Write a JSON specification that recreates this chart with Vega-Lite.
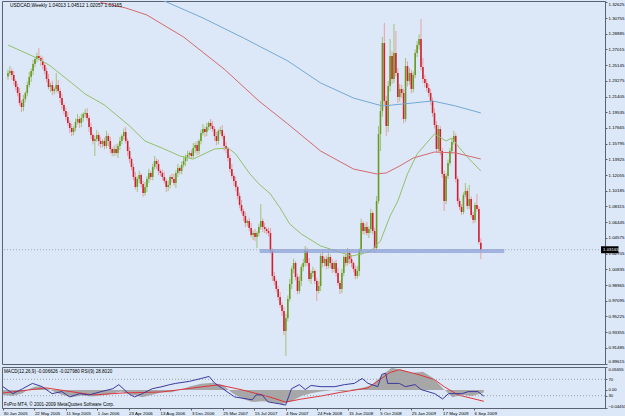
{
"$schema": "https://vega.github.io/schema/vega-lite/v6.json",
"background": "#dce8f8",
"padding": {"left": 0, "top": 0, "right": 0, "bottom": 3},
"spacing": 1,
"config": {
  "view": {"stroke": "#5a6272", "strokeWidth": 1},
  "axis": {"labelFont": "Liberation Sans", "labelFontSize": 4.4, "labelColor": "#000000", "tickColor": "#5a6272", "domainColor": "#5a6272", "grid": false},
  "text": {"font": "Liberation Sans"}
},
"datasets": {
"candles": [
{"d":"2005-01-30","o":1.2380,"h":1.2461,"l":1.2340,"c":1.2421},
{"d":"2005-02-06","o":1.2421,"h":1.2505,"l":1.2391,"c":1.2445},
{"d":"2005-02-13","o":1.2445,"h":1.2475,"l":1.2337,"c":1.2397},
{"d":"2005-02-20","o":1.2397,"h":1.2447,"l":1.2276,"c":1.2326},
{"d":"2005-02-27","o":1.2326,"h":1.2346,"l":1.2214,"c":1.2254},
{"d":"2005-03-06","o":1.2254,"h":1.2294,"l":1.2143,"c":1.2183},
{"d":"2005-03-13","o":1.2183,"h":1.2243,"l":1.2034,"c":1.2064},
{"d":"2005-03-20","o":1.2064,"h":1.2094,"l":1.1956,"c":1.2016},
{"d":"2005-03-27","o":1.2016,"h":1.2161,"l":1.1966,"c":1.2111},
{"d":"2005-04-03","o":1.2111,"h":1.2203,"l":1.2071,"c":1.2183},
{"d":"2005-04-10","o":1.2183,"h":1.2318,"l":1.2143,"c":1.2278},
{"d":"2005-04-17","o":1.2278,"h":1.2433,"l":1.2248,"c":1.2373},
{"d":"2005-04-24","o":1.2373,"h":1.2475,"l":1.2313,"c":1.2445},
{"d":"2005-05-01","o":1.2445,"h":1.2578,"l":1.2395,"c":1.2528},
{"d":"2005-05-08","o":1.2528,"h":1.2608,"l":1.2488,"c":1.2588},
{"d":"2005-05-15","o":1.2588,"h":1.2663,"l":1.2548,"c":1.2623},
{"d":"2005-05-22","o":1.2623,"h":1.2718,"l":1.2569,"c":1.2599},
{"d":"2005-05-29","o":1.2599,"h":1.2629,"l":1.2504,"c":1.2564},
{"d":"2005-06-05","o":1.2564,"h":1.2614,"l":1.2466,"c":1.2516},
{"d":"2005-06-12","o":1.2516,"h":1.2536,"l":1.2405,"c":1.2445},
{"d":"2005-06-19","o":1.2445,"h":1.2485,"l":1.2309,"c":1.2349},
{"d":"2005-06-26","o":1.2349,"h":1.2409,"l":1.2224,"c":1.2254},
{"d":"2005-07-03","o":1.2254,"h":1.2308,"l":1.2194,"c":1.2278},
{"d":"2005-07-10","o":1.2278,"h":1.2328,"l":1.2157,"c":1.2207},
{"d":"2005-07-17","o":1.2207,"h":1.2250,"l":1.2167,"c":1.2230},
{"d":"2005-07-24","o":1.2230,"h":1.2421,"l":1.2190,"c":1.2278},
{"d":"2005-07-31","o":1.2278,"h":1.2338,"l":1.2177,"c":1.2207},
{"d":"2005-08-07","o":1.2207,"h":1.2237,"l":1.2063,"c":1.2123},
{"d":"2005-08-14","o":1.2123,"h":1.2173,"l":1.1990,"c":1.2040},
{"d":"2005-08-21","o":1.2040,"h":1.2060,"l":1.1929,"c":1.1969},
{"d":"2005-08-28","o":1.1969,"h":1.2009,"l":1.1857,"c":1.1897},
{"d":"2005-09-04","o":1.1897,"h":1.1957,"l":1.1796,"c":1.1826},
{"d":"2005-09-11","o":1.1826,"h":1.1856,"l":1.1706,"c":1.1766},
{"d":"2005-09-18","o":1.1766,"h":1.1816,"l":1.1669,"c":1.1719},
{"d":"2005-09-25","o":1.1719,"h":1.1786,"l":1.1679,"c":1.1766},
{"d":"2005-10-02","o":1.1766,"h":1.1878,"l":1.1726,"c":1.1838},
{"d":"2005-10-09","o":1.1838,"h":1.1933,"l":1.1808,"c":1.1873},
{"d":"2005-10-16","o":1.1873,"h":1.1903,"l":1.1766,"c":1.1826},
{"d":"2005-10-23","o":1.1826,"h":1.1935,"l":1.1776,"c":1.1885},
{"d":"2005-10-30","o":1.1885,"h":1.1953,"l":1.1845,"c":1.1933},
{"d":"2005-11-06","o":1.1933,"h":1.1992,"l":1.1893,"c":1.1945},
{"d":"2005-11-13","o":1.1945,"h":1.2005,"l":1.1855,"c":1.1885},
{"d":"2005-11-20","o":1.1885,"h":1.1915,"l":1.1718,"c":1.1778},
{"d":"2005-11-27","o":1.1778,"h":1.1828,"l":1.1633,"c":1.1683},
{"d":"2005-12-04","o":1.1683,"h":1.1703,"l":1.1571,"c":1.1611},
{"d":"2005-12-11","o":1.1611,"h":1.1675,"l":1.1433,"c":1.1635},
{"d":"2005-12-18","o":1.1635,"h":1.1743,"l":1.1605,"c":1.1683},
{"d":"2005-12-25","o":1.1683,"h":1.1713,"l":1.1551,"c":1.1611},
{"d":"2006-01-01","o":1.1611,"h":1.1661,"l":1.1526,"c":1.1576},
{"d":"2006-01-08","o":1.1576,"h":1.1631,"l":1.1536,"c":1.1611},
{"d":"2006-01-15","o":1.1611,"h":1.1651,"l":1.1512,"c":1.1552},
{"d":"2006-01-22","o":1.1552,"h":1.1731,"l":1.1522,"c":1.1671},
{"d":"2006-01-29","o":1.1671,"h":1.1701,"l":1.1551,"c":1.1611},
{"d":"2006-02-05","o":1.1611,"h":1.1661,"l":1.1466,"c":1.1516},
{"d":"2006-02-12","o":1.1516,"h":1.1536,"l":1.1429,"c":1.1469},
{"d":"2006-02-19","o":1.1469,"h":1.1556,"l":1.1429,"c":1.1516},
{"d":"2006-02-26","o":1.1516,"h":1.1576,"l":1.1439,"c":1.1469},
{"d":"2006-03-05","o":1.1469,"h":1.1582,"l":1.1409,"c":1.1552},
{"d":"2006-03-12","o":1.1552,"h":1.1661,"l":1.1502,"c":1.1611},
{"d":"2006-03-19","o":1.1611,"h":1.1691,"l":1.1571,"c":1.1671},
{"d":"2006-03-26","o":1.1671,"h":1.1759,"l":1.1631,"c":1.1719},
{"d":"2006-04-02","o":1.1719,"h":1.1779,"l":1.1581,"c":1.1611},
{"d":"2006-04-09","o":1.1611,"h":1.1641,"l":1.1432,"c":1.1492},
{"d":"2006-04-16","o":1.1492,"h":1.1542,"l":1.1347,"c":1.1397},
{"d":"2006-04-23","o":1.1397,"h":1.1417,"l":1.1262,"c":1.1302},
{"d":"2006-04-30","o":1.1302,"h":1.1342,"l":1.1143,"c":1.1183},
{"d":"2006-05-07","o":1.1183,"h":1.1243,"l":1.1034,"c":1.1064},
{"d":"2006-05-14","o":1.1064,"h":1.1189,"l":1.1004,"c":1.1159},
{"d":"2006-05-21","o":1.1159,"h":1.1257,"l":1.1109,"c":1.1207},
{"d":"2006-05-28","o":1.1207,"h":1.1227,"l":1.1059,"c":1.1099},
{"d":"2006-06-04","o":1.1099,"h":1.1139,"l":1.0945,"c":1.0992},
{"d":"2006-06-11","o":1.0992,"h":1.1124,"l":1.0962,"c":1.1064},
{"d":"2006-06-18","o":1.1064,"h":1.1189,"l":1.1004,"c":1.1159},
{"d":"2006-06-25","o":1.1159,"h":1.1281,"l":1.1109,"c":1.1231},
{"d":"2006-07-02","o":1.1231,"h":1.1251,"l":1.1143,"c":1.1183},
{"d":"2006-07-09","o":1.1183,"h":1.1342,"l":1.1143,"c":1.1302},
{"d":"2006-07-16","o":1.1302,"h":1.1433,"l":1.1272,"c":1.1373},
{"d":"2006-07-23","o":1.1373,"h":1.1403,"l":1.1278,"c":1.1338},
{"d":"2006-07-30","o":1.1338,"h":1.1388,"l":1.1204,"c":1.1254},
{"d":"2006-08-06","o":1.1254,"h":1.1274,"l":1.1191,"c":1.1231},
{"d":"2006-08-13","o":1.1231,"h":1.1271,"l":1.1143,"c":1.1183},
{"d":"2006-08-20","o":1.1183,"h":1.1243,"l":1.1105,"c":1.1135},
{"d":"2006-08-27","o":1.1135,"h":1.1165,"l":1.1004,"c":1.1064},
{"d":"2006-09-03","o":1.1064,"h":1.1138,"l":1.1014,"c":1.1088},
{"d":"2006-09-10","o":1.1088,"h":1.1203,"l":1.1048,"c":1.1183},
{"d":"2006-09-17","o":1.1183,"h":1.1223,"l":1.1119,"c":1.1159},
{"d":"2006-09-24","o":1.1159,"h":1.1219,"l":1.1081,"c":1.1111},
{"d":"2006-10-01","o":1.1111,"h":1.1261,"l":1.1051,"c":1.1231},
{"d":"2006-10-08","o":1.1231,"h":1.1340,"l":1.1181,"c":1.1290},
{"d":"2006-10-15","o":1.1290,"h":1.1310,"l":1.1214,"c":1.1254},
{"d":"2006-10-22","o":1.1254,"h":1.1366,"l":1.1214,"c":1.1326},
{"d":"2006-10-29","o":1.1326,"h":1.1433,"l":1.1296,"c":1.1373},
{"d":"2006-11-05","o":1.1373,"h":1.1451,"l":1.1313,"c":1.1421},
{"d":"2006-11-12","o":1.1421,"h":1.1495,"l":1.1371,"c":1.1445},
{"d":"2006-11-19","o":1.1445,"h":1.1489,"l":1.1405,"c":1.1469},
{"d":"2006-11-26","o":1.1469,"h":1.1509,"l":1.1393,"c":1.1433},
{"d":"2006-12-03","o":1.1433,"h":1.1588,"l":1.1403,"c":1.1528},
{"d":"2006-12-10","o":1.1528,"h":1.1594,"l":1.1468,"c":1.1564},
{"d":"2006-12-17","o":1.1564,"h":1.1614,"l":1.1442,"c":1.1492},
{"d":"2006-12-24","o":1.1492,"h":1.1631,"l":1.1452,"c":1.1611},
{"d":"2006-12-31","o":1.1611,"h":1.1747,"l":1.1571,"c":1.1707},
{"d":"2007-01-07","o":1.1707,"h":1.1814,"l":1.1677,"c":1.1754},
{"d":"2007-01-14","o":1.1754,"h":1.1784,"l":1.1659,"c":1.1719},
{"d":"2007-01-21","o":1.1719,"h":1.1828,"l":1.1669,"c":1.1778},
{"d":"2007-01-28","o":1.1778,"h":1.1846,"l":1.1738,"c":1.1826},
{"d":"2007-02-04","o":1.1826,"h":1.1873,"l":1.1750,"c":1.1790},
{"d":"2007-02-11","o":1.1790,"h":1.1850,"l":1.1724,"c":1.1754},
{"d":"2007-02-18","o":1.1754,"h":1.1784,"l":1.1611,"c":1.1671},
{"d":"2007-02-25","o":1.1671,"h":1.1721,"l":1.1561,"c":1.1611},
{"d":"2007-03-04","o":1.1611,"h":1.1751,"l":1.1571,"c":1.1731},
{"d":"2007-03-11","o":1.1731,"h":1.1782,"l":1.1691,"c":1.1742},
{"d":"2007-03-18","o":1.1742,"h":1.1802,"l":1.1641,"c":1.1671},
{"d":"2007-03-25","o":1.1671,"h":1.1701,"l":1.1492,"c":1.1552},
{"d":"2007-04-01","o":1.1552,"h":1.1602,"l":1.1466,"c":1.1516},
{"d":"2007-04-08","o":1.1516,"h":1.1536,"l":1.1369,"c":1.1409},
{"d":"2007-04-15","o":1.1409,"h":1.1449,"l":1.1238,"c":1.1278},
{"d":"2007-04-22","o":1.1278,"h":1.1338,"l":1.1165,"c":1.1195},
{"d":"2007-04-29","o":1.1195,"h":1.1225,"l":1.1075,"c":1.1135},
{"d":"2007-05-06","o":1.1135,"h":1.1185,"l":1.1014,"c":1.1064},
{"d":"2007-05-13","o":1.1064,"h":1.1084,"l":1.0917,"c":1.0957},
{"d":"2007-05-20","o":1.0957,"h":1.0997,"l":1.0810,"c":1.0850},
{"d":"2007-05-27","o":1.0850,"h":1.0910,"l":1.0748,"c":1.0778},
{"d":"2007-06-03","o":1.0778,"h":1.0808,"l":1.0659,"c":1.0719},
{"d":"2007-06-10","o":1.0719,"h":1.0769,"l":1.0585,"c":1.0635},
{"d":"2007-06-17","o":1.0635,"h":1.0679,"l":1.0595,"c":1.0659},
{"d":"2007-06-24","o":1.0659,"h":1.0699,"l":1.0536,"c":1.0576},
{"d":"2007-07-01","o":1.0576,"h":1.0636,"l":1.0462,"c":1.0492},
{"d":"2007-07-08","o":1.0492,"h":1.0546,"l":1.0432,"c":1.0516},
{"d":"2007-07-15","o":1.0516,"h":1.0566,"l":1.0419,"c":1.0469},
{"d":"2007-07-22","o":1.0469,"h":1.0536,"l":1.0338,"c":1.0516},
{"d":"2007-07-29","o":1.0516,"h":1.0628,"l":1.0476,"c":1.0588},
{"d":"2007-08-05","o":1.0588,"h":1.0861,"l":1.0558,"c":1.0659},
{"d":"2007-08-12","o":1.0659,"h":1.0689,"l":1.0528,"c":1.0588},
{"d":"2007-08-19","o":1.0588,"h":1.0638,"l":1.0514,"c":1.0564},
{"d":"2007-08-26","o":1.0564,"h":1.0584,"l":1.0500,"c":1.0540},
{"d":"2007-09-02","o":1.0540,"h":1.0580,"l":1.0476,"c":1.0516},
{"d":"2007-09-09","o":1.0516,"h":1.0576,"l":1.0272,"c":1.0302},
{"d":"2007-09-16","o":1.0302,"h":1.0332,"l":0.9944,"c":1.0004},
{"d":"2007-09-23","o":1.0004,"h":1.0054,"l":0.9895,"c":0.9945},
{"d":"2007-09-30","o":0.9945,"h":0.9965,"l":0.9810,"c":0.9850},
{"d":"2007-10-07","o":0.9850,"h":0.9890,"l":0.9714,"c":0.9754},
{"d":"2007-10-14","o":0.9754,"h":0.9814,"l":0.9629,"c":0.9659},
{"d":"2007-10-21","o":0.9659,"h":0.9689,"l":0.9528,"c":0.9588},
{"d":"2007-10-28","o":0.9588,"h":0.9638,"l":0.9300,"c":0.9350},
{"d":"2007-11-04","o":0.9350,"h":0.9554,"l":0.9052,"c":0.9504},
{"d":"2007-11-11","o":0.9504,"h":0.9771,"l":0.9464,"c":0.9731},
{"d":"2007-11-18","o":0.9731,"h":0.9969,"l":0.9701,"c":0.9909},
{"d":"2007-11-25","o":0.9909,"h":1.0118,"l":0.9849,"c":1.0088},
{"d":"2007-12-02","o":1.0088,"h":1.0209,"l":1.0038,"c":1.0159},
{"d":"2007-12-09","o":1.0159,"h":1.0179,"l":0.9952,"c":0.9992},
{"d":"2007-12-16","o":0.9992,"h":1.0032,"l":0.9786,"c":0.9826},
{"d":"2007-12-23","o":0.9826,"h":1.0005,"l":0.9796,"c":0.9945},
{"d":"2007-12-30","o":0.9945,"h":1.0141,"l":0.9885,"c":1.0111},
{"d":"2008-01-06","o":1.0111,"h":1.0209,"l":1.0061,"c":1.0159},
{"d":"2008-01-13","o":1.0159,"h":1.0362,"l":1.0119,"c":1.0302},
{"d":"2008-01-20","o":1.0302,"h":1.0342,"l":1.0119,"c":1.0159},
{"d":"2008-01-27","o":1.0159,"h":1.0219,"l":0.9939,"c":0.9969},
{"d":"2008-02-03","o":0.9969,"h":1.0070,"l":0.9909,"c":1.0040},
{"d":"2008-02-10","o":1.0040,"h":1.0114,"l":0.9990,"c":1.0064},
{"d":"2008-02-17","o":1.0064,"h":1.0084,"l":0.9905,"c":0.9945},
{"d":"2008-02-24","o":0.9945,"h":0.9985,"l":0.9707,"c":0.9826},
{"d":"2008-03-02","o":0.9826,"h":0.9945,"l":0.9796,"c":0.9885},
{"d":"2008-03-09","o":0.9885,"h":1.0272,"l":0.9825,"c":1.0242},
{"d":"2008-03-16","o":1.0242,"h":1.0292,"l":1.0109,"c":1.0159},
{"d":"2008-03-23","o":1.0159,"h":1.0227,"l":1.0119,"c":1.0207},
{"d":"2008-03-30","o":1.0207,"h":1.0247,"l":1.0083,"c":1.0123},
{"d":"2008-04-06","o":1.0123,"h":1.0291,"l":1.0093,"c":1.0231},
{"d":"2008-04-13","o":1.0231,"h":1.0261,"l":1.0099,"c":1.0159},
{"d":"2008-04-20","o":1.0159,"h":1.0209,"l":1.0038,"c":1.0088},
{"d":"2008-04-27","o":1.0088,"h":1.0179,"l":1.0048,"c":1.0159},
{"d":"2008-05-04","o":1.0159,"h":1.0199,"l":1.0000,"c":1.0040},
{"d":"2008-05-11","o":1.0040,"h":1.0100,"l":0.9891,"c":0.9921},
{"d":"2008-05-18","o":0.9921,"h":0.9951,"l":0.9790,"c":0.9850},
{"d":"2008-05-25","o":0.9850,"h":1.0090,"l":0.9800,"c":1.0040},
{"d":"2008-06-01","o":1.0040,"h":1.0251,"l":1.0000,"c":1.0231},
{"d":"2008-06-08","o":1.0231,"h":1.0271,"l":1.0119,"c":1.0159},
{"d":"2008-06-15","o":1.0159,"h":1.0338,"l":1.0129,"c":1.0278},
{"d":"2008-06-22","o":1.0278,"h":1.0308,"l":1.0147,"c":1.0207},
{"d":"2008-06-29","o":1.0207,"h":1.0257,"l":1.0109,"c":1.0159},
{"d":"2008-07-06","o":1.0159,"h":1.0179,"l":1.0048,"c":1.0088},
{"d":"2008-07-13","o":1.0088,"h":1.0128,"l":0.9964,"c":1.0004},
{"d":"2008-07-20","o":1.0004,"h":1.0124,"l":0.9974,"c":1.0064},
{"d":"2008-07-27","o":1.0064,"h":1.0332,"l":1.0004,"c":1.0302},
{"d":"2008-08-03","o":1.0302,"h":1.0685,"l":1.0252,"c":1.0635},
{"d":"2008-08-10","o":1.0635,"h":1.0655,"l":1.0500,"c":1.0540},
{"d":"2008-08-17","o":1.0540,"h":1.0628,"l":1.0500,"c":1.0588},
{"d":"2008-08-24","o":1.0588,"h":1.0648,"l":1.0486,"c":1.0516},
{"d":"2008-08-31","o":1.0516,"h":1.0594,"l":1.0456,"c":1.0564},
{"d":"2008-09-07","o":1.0564,"h":1.0802,"l":1.0514,"c":1.0754},
{"d":"2008-09-14","o":1.0754,"h":1.0774,"l":1.0500,"c":1.0540},
{"d":"2008-09-21","o":1.0540,"h":1.0580,"l":1.0278,"c":1.0338},
{"d":"2008-09-28","o":1.0338,"h":1.0957,"l":1.0308,"c":1.0897},
{"d":"2008-10-05","o":1.0897,"h":1.1790,"l":1.0867,"c":1.1695},
{"d":"2008-10-12","o":1.1695,"h":1.2088,"l":1.1492,"c":1.1969},
{"d":"2008-10-19","o":1.1969,"h":1.2850,"l":1.1900,"c":1.2778},
{"d":"2008-10-26","o":1.2778,"h":1.3016,"l":1.2040,"c":1.2088},
{"d":"2008-11-02","o":1.2088,"h":1.2150,"l":1.1671,"c":1.1790},
{"d":"2008-11-09","o":1.1790,"h":1.2326,"l":1.1720,"c":1.2266},
{"d":"2008-11-16","o":1.2266,"h":1.2826,"l":1.2200,"c":1.2623},
{"d":"2008-11-23","o":1.2623,"h":1.2680,"l":1.2290,"c":1.2349},
{"d":"2008-11-30","o":1.2349,"h":1.3004,"l":1.2300,"c":1.2659},
{"d":"2008-12-07","o":1.2659,"h":1.2921,"l":1.2380,"c":1.2421},
{"d":"2008-12-14","o":1.2421,"h":1.2480,"l":1.2060,"c":1.2135},
{"d":"2008-12-21","o":1.2135,"h":1.2290,"l":1.2080,"c":1.2230},
{"d":"2008-12-28","o":1.2230,"h":1.2280,"l":1.2120,"c":1.2183},
{"d":"2009-01-04","o":1.2183,"h":1.2230,"l":1.1820,"c":1.1873},
{"d":"2009-01-11","o":1.1873,"h":1.2599,"l":1.1840,"c":1.2504},
{"d":"2009-01-18","o":1.2504,"h":1.2560,"l":1.2260,"c":1.2326},
{"d":"2009-01-25","o":1.2326,"h":1.2480,"l":1.2280,"c":1.2421},
{"d":"2009-02-01","o":1.2421,"h":1.2460,"l":1.2180,"c":1.2230},
{"d":"2009-02-08","o":1.2230,"h":1.2440,"l":1.2190,"c":1.2397},
{"d":"2009-02-15","o":1.2397,"h":1.2700,"l":1.2360,"c":1.2659},
{"d":"2009-02-22","o":1.2659,"h":1.2800,"l":1.2610,"c":1.2754},
{"d":"2009-03-01","o":1.2754,"h":1.2880,"l":1.2700,"c":1.2826},
{"d":"2009-03-08","o":1.2826,"h":1.3064,"l":1.2450,"c":1.2492},
{"d":"2009-03-15","o":1.2492,"h":1.2599,"l":1.2300,"c":1.2349},
{"d":"2009-03-22","o":1.2349,"h":1.2400,"l":1.2250,"c":1.2302},
{"d":"2009-03-29","o":1.2302,"h":1.2350,"l":1.2200,"c":1.2242},
{"d":"2009-04-05","o":1.2242,"h":1.2290,"l":1.2140,"c":1.2183},
{"d":"2009-04-12","o":1.2183,"h":1.2230,"l":1.2040,"c":1.2088},
{"d":"2009-04-19","o":1.2088,"h":1.2130,"l":1.1900,"c":1.1945},
{"d":"2009-04-26","o":1.1945,"h":1.2000,"l":1.1760,"c":1.1802},
{"d":"2009-05-03","o":1.1802,"h":1.1850,"l":1.1470,"c":1.1516},
{"d":"2009-05-10","o":1.1516,"h":1.1800,"l":1.1480,"c":1.1754},
{"d":"2009-05-17","o":1.1754,"h":1.1790,"l":1.1440,"c":1.1492},
{"d":"2009-05-24","o":1.1492,"h":1.1530,"l":1.1170,"c":1.1219},
{"d":"2009-05-31","o":1.1219,"h":1.1260,"l":1.0778,"c":1.0897},
{"d":"2009-06-07","o":1.0897,"h":1.1230,"l":1.0860,"c":1.1195},
{"d":"2009-06-14","o":1.1195,"h":1.1390,"l":1.1160,"c":1.1350},
{"d":"2009-06-21","o":1.1350,"h":1.1530,"l":1.1320,"c":1.1492},
{"d":"2009-06-28","o":1.1492,"h":1.1640,"l":1.1460,"c":1.1600},
{"d":"2009-07-05","o":1.1600,"h":1.1731,"l":1.1570,"c":1.1671},
{"d":"2009-07-12","o":1.1671,"h":1.1700,"l":1.1120,"c":1.1159},
{"d":"2009-07-19","o":1.1159,"h":1.1190,"l":1.0860,"c":1.0897},
{"d":"2009-07-26","o":1.0897,"h":1.0930,"l":1.0790,"c":1.0826},
{"d":"2009-08-02","o":1.0826,"h":1.0860,"l":1.0730,"c":1.0766},
{"d":"2009-08-09","o":1.0766,"h":1.1000,"l":1.0740,"c":1.0969},
{"d":"2009-08-16","o":1.0969,"h":1.1111,"l":1.0940,"c":1.1016},
{"d":"2009-08-23","o":1.1016,"h":1.1050,"l":1.0800,"c":1.0838},
{"d":"2009-08-30","o":1.0838,"h":1.1088,"l":1.0800,"c":1.0921},
{"d":"2009-09-06","o":1.0921,"h":1.0950,"l":1.0700,"c":1.0730},
{"d":"2009-09-13","o":1.0730,"h":1.0770,"l":1.0630,"c":1.0671},
{"d":"2009-09-20","o":1.0671,"h":1.0880,"l":1.0640,"c":1.0850},
{"d":"2009-09-27","o":1.0850,"h":1.0981,"l":1.0770,"c":1.0802},
{"d":"2009-10-04","o":1.0802,"h":1.0830,"l":1.0380,"c":1.0409},
{"d":"2009-10-11","o":1.04013,"h":1.04512,"l":1.02057,"c":1.03165}
],
"ma": [
{"d":"2005-01-30","v":1.2754,"s":"g"},{"d":"2005-05-22","v":1.2588,"s":"g"},{"d":"2005-07-03","v":1.2504,"s":"g"},{"d":"2005-09-18","v":1.2302,"s":"g"},{"d":"2005-11-06","v":1.2171,"s":"g"},{"d":"2006-01-15","v":1.2040,"s":"g"},{"d":"2006-04-16","v":1.1790,"s":"g"},{"d":"2006-06-11","v":1.1611,"s":"g"},{"d":"2006-08-20","v":1.1516,"s":"g"},{"d":"2006-10-15","v":1.1433,"s":"g"},{"d":"2006-12-03","v":1.1397,"s":"g"},{"d":"2007-02-18","v":1.1516,"s":"g"},{"d":"2007-04-08","v":1.1528,"s":"g"},{"d":"2007-05-06","v":1.1457,"s":"g"},{"d":"2007-06-24","v":1.1230,"s":"g"},{"d":"2007-07-29","v":1.1100,"s":"g"},{"d":"2007-09-09","v":1.0981,"s":"g"},{"d":"2007-10-14","v":1.0814,"s":"g"},{"d":"2007-11-18","v":1.0623,"s":"g"},{"d":"2007-12-30","v":1.0504,"s":"g"},{"d":"2008-03-09","v":1.0362,"s":"g"},{"d":"2008-05-04","v":1.0302,"s":"g"},{"d":"2008-06-29","v":1.0242,"s":"g"},{"d":"2008-08-03","v":1.0266,"s":"g"},{"d":"2008-09-07","v":1.0302,"s":"g"},{"d":"2008-10-12","v":1.0421,"s":"g"},{"d":"2008-11-16","v":1.0719,"s":"g"},{"d":"2008-12-14","v":1.0897,"s":"g"},{"d":"2009-01-18","v":1.1219,"s":"g"},{"d":"2009-02-22","v":1.1457,"s":"g"},{"d":"2009-04-26","v":1.1695,"s":"g"},{"d":"2009-06-07","v":1.1611,"s":"g"},{"d":"2009-06-28","v":1.1647,"s":"g"},{"d":"2009-07-26","v":1.1528,"s":"g"},{"d":"2009-08-30","v":1.1397,"s":"g"},{"d":"2009-10-11","v":1.1254,"s":"g"},
{"d":"2005-12-11","v":1.3300,"s":"r"},{"d":"2006-01-08","v":1.3254,"s":"r"},{"d":"2006-04-02","v":1.3195,"s":"r"},{"d":"2006-06-18","v":1.3111,"s":"r"},{"d":"2006-10-29","v":1.2849,"s":"r"},{"d":"2007-03-25","v":1.2468,"s":"r"},{"d":"2007-07-29","v":1.2088,"s":"r"},{"d":"2007-11-11","v":1.1814,"s":"r"},{"d":"2008-03-09","v":1.1492,"s":"r"},{"d":"2008-07-06","v":1.1278,"s":"r"},{"d":"2008-09-28","v":1.1219,"s":"r"},{"d":"2008-11-02","v":1.1231,"s":"r"},{"d":"2008-12-21","v":1.1314,"s":"r"},{"d":"2009-02-08","v":1.1409,"s":"r"},{"d":"2009-04-26","v":1.1480,"s":"r"},{"d":"2009-07-12","v":1.1469,"s":"r"},{"d":"2009-10-11","v":1.1397,"s":"r"},
{"d":"2006-07-16","v":1.3326,"s":"b"},{"d":"2006-08-20","v":1.3278,"s":"b"},{"d":"2007-01-07","v":1.3076,"s":"b"},{"d":"2007-06-03","v":1.2838,"s":"b"},{"d":"2007-11-11","v":1.2564,"s":"b"},{"d":"2008-03-09","v":1.2302,"s":"b"},{"d":"2008-07-06","v":1.2123,"s":"b"},{"d":"2008-10-19","v":1.2028,"s":"b"},{"d":"2009-02-08","v":1.2064,"s":"b"},{"d":"2009-04-19","v":1.2088,"s":"b"},{"d":"2009-07-12","v":1.2028,"s":"b"},{"d":"2009-10-11","v":1.1945,"s":"b"}
],
"macd": [
{"d":"2005-01-30","v":-0.012},{"d":"2005-03-06","v":-0.015},{"d":"2005-04-10","v":-0.008},{"d":"2005-05-01","v":0.002},{"d":"2005-05-22","v":0.008},{"d":"2005-06-12","v":0.009},{"d":"2005-07-03","v":0.004},{"d":"2005-07-24","v":-0.002},{"d":"2005-08-28","v":-0.012},{"d":"2005-10-02","v":-0.018},{"d":"2005-11-06","v":-0.014},{"d":"2005-12-11","v":-0.016},{"d":"2006-01-15","v":-0.014},{"d":"2006-02-19","v":-0.010},{"d":"2006-03-26","v":-0.004},{"d":"2006-05-07","v":-0.012},{"d":"2006-06-11","v":-0.018},{"d":"2006-07-16","v":-0.012},{"d":"2006-08-20","v":-0.006},{"d":"2006-09-24","v":-0.006},{"d":"2006-10-29","v":0.002},{"d":"2006-12-03","v":0.010},{"d":"2007-01-07","v":0.015},{"d":"2007-02-18","v":0.018},{"d":"2007-03-25","v":0.012},{"d":"2007-04-29","v":-0.008},{"d":"2007-06-03","v":-0.022},{"d":"2007-07-08","v":-0.030},{"d":"2007-08-12","v":-0.028},{"d":"2007-09-16","v":-0.030},{"d":"2007-10-21","v":-0.035},{"d":"2007-11-25","v":-0.028},{"d":"2007-12-30","v":-0.015},{"d":"2008-02-03","v":-0.008},{"d":"2008-03-09","v":-0.004},{"d":"2008-04-20","v":0.000},{"d":"2008-05-25","v":-0.003},{"d":"2008-06-29","v":0.001},{"d":"2008-08-03","v":0.005},{"d":"2008-09-07","v":0.012},{"d":"2008-10-12","v":0.035},{"d":"2008-11-16","v":0.055},{"d":"2008-12-21","v":0.050},{"d":"2009-01-25","v":0.042},{"d":"2009-03-08","v":0.045},{"d":"2009-04-12","v":0.030},{"d":"2009-05-17","v":0.005},{"d":"2009-06-21","v":-0.018},{"d":"2009-07-26","v":-0.012},{"d":"2009-08-30","v":-0.015},{"d":"2009-10-11","v":-0.0066}
],
"sig": [
{"d":"2005-01-30","v":-0.0075},{"d":"2005-07-03","v":0.005},{"d":"2005-12-18","v":-0.0125},{"d":"2006-04-02","v":-0.0075},{"d":"2006-08-20","v":-0.005},{"d":"2007-01-07","v":0.0075},{"d":"2007-03-11","v":0.0125},{"d":"2007-06-03","v":0.0},{"d":"2007-09-09","v":-0.0175},{"d":"2007-11-04","v":-0.030},{"d":"2007-12-30","v":-0.0225},{"d":"2008-03-09","v":-0.015},{"d":"2008-05-18","v":-0.006},{"d":"2008-08-24","v":0.005},{"d":"2008-11-09","v":0.0425},{"d":"2008-12-14","v":0.050},{"d":"2009-02-22","v":0.0375},{"d":"2009-04-19","v":0.025},{"d":"2009-05-24","v":0.0075},{"d":"2009-07-12","v":-0.0125},{"d":"2009-10-11","v":-0.028}
],
"rsi": [
{"d":"2005-01-30","v":52},{"d":"2005-03-06","v":35},{"d":"2005-04-10","v":47},{"d":"2005-05-15","v":60},{"d":"2005-06-19","v":52},{"d":"2005-07-24","v":35},{"d":"2005-08-28","v":40},{"d":"2005-09-25","v":27},{"d":"2005-10-30","v":35},{"d":"2005-12-04","v":32},{"d":"2006-01-15","v":40},{"d":"2006-02-26","v":47},{"d":"2006-03-19","v":57},{"d":"2006-04-23","v":35},{"d":"2006-05-14","v":27},{"d":"2006-06-11","v":35},{"d":"2006-07-16","v":47},{"d":"2006-08-20","v":52},{"d":"2006-09-17","v":57},{"d":"2006-10-08","v":60},{"d":"2006-11-26","v":65},{"d":"2007-01-07","v":72},{"d":"2007-02-04","v":77},{"d":"2007-02-25","v":60},{"d":"2007-03-25","v":47},{"d":"2007-05-06","v":27},{"d":"2007-07-08","v":20},{"d":"2007-07-22","v":32},{"d":"2007-08-12","v":32},{"d":"2007-09-02","v":15},{"d":"2007-10-14","v":10},{"d":"2007-11-04","v":7},{"d":"2007-11-25","v":47},{"d":"2007-12-23","v":57},{"d":"2008-01-13","v":45},{"d":"2008-02-03","v":55},{"d":"2008-03-09","v":52},{"d":"2008-04-27","v":52},{"d":"2008-06-01","v":57},{"d":"2008-07-06","v":60},{"d":"2008-08-03","v":72},{"d":"2008-08-24","v":60},{"d":"2008-09-28","v":52},{"d":"2008-10-12","v":82},{"d":"2008-10-26","v":85},{"d":"2008-11-02","v":60},{"d":"2008-12-14","v":60},{"d":"2009-01-04","v":52},{"d":"2009-02-08","v":57},{"d":"2009-03-01","v":45},{"d":"2009-04-19","v":35},{"d":"2009-05-17","v":22},{"d":"2009-06-07","v":35},{"d":"2009-06-28","v":35},{"d":"2009-07-26","v":35},{"d":"2009-08-16","v":40},{"d":"2009-09-20","v":40},{"d":"2009-10-11","v":28.8}
]
},
"vconcat": [
{
 "width": 603, "height": 363,
 "layer": [
  {"data": {"name": "candles"},
   "mark": {"type": "rule", "strokeWidth": 1, "clip": true},
   "encoding": {
    "x": {"field": "d", "type": "temporal", "title": null, "scale": {"type": "utc", "domain": [{"year": 2005, "month": "jan", "date": 26, "hours": 10, "utc": true}, {"year": 2010, "month": "dec", "date": 17, "hours": 7, "utc": true}]}, "axis": null},
    "y": {"field": "l", "type": "quantitative", "title": null, "scale": {"domain": [0.89565, 1.32779], "nice": false, "zero": false},
      "axis": {"orient": "right", "values": [1.32625,1.30755,1.28885,1.27015,1.25145,1.23275,1.21405,1.19535,1.17665,1.15795,1.13925,1.12055,1.10185,1.08315,1.06445,1.04575,1.02705,1.00835,0.98965,0.97095,0.95225,0.93355,0.91485,0.89615], "format": ".5f", "tickSize": 2, "labelPadding": 1, "labelFlush": 3, "labelOverlap": false, "labelFontSize": 4.4}},
    "y2": {"field": "h"},
    "color": {"condition": {"test": "datum.c >= datum.o", "value": "#a3c178"}, "value": "#e6a0a6"}
   }},
  {"data": {"name": "candles"},
   "mark": {"type": "bar", "size": 1.6, "orient": "vertical", "clip": true},
   "encoding": {
    "x": {"field": "d", "type": "temporal", "title": null, "scale": {"type": "utc", "domain": [{"year": 2005, "month": "jan", "date": 26, "hours": 10, "utc": true}, {"year": 2010, "month": "dec", "date": 17, "hours": 7, "utc": true}]}, "axis": null},
    "y": {"field": "o", "type": "quantitative", "title": null, "scale": {"domain": [0.89565, 1.32779], "nice": false, "zero": false},
      "axis": {"orient": "right", "values": [1.32625,1.30755,1.28885,1.27015,1.25145,1.23275,1.21405,1.19535,1.17665,1.15795,1.13925,1.12055,1.10185,1.08315,1.06445,1.04575,1.02705,1.00835,0.98965,0.97095,0.95225,0.93355,0.91485,0.89615], "format": ".5f", "tickSize": 2, "labelPadding": 1, "labelFlush": 3, "labelOverlap": false, "labelFontSize": 4.4}},
    "y2": {"field": "c"},
    "color": {"condition": {"test": "datum.c >= datum.o", "value": "#6b9a23"}, "value": "#d0202e"}
   }},
  {"data": {"name": "ma"},
   "mark": {"type": "line", "strokeWidth": 1, "clip": true},
   "encoding": {
    "x": {"field": "d", "type": "temporal", "title": null, "scale": {"type": "utc", "domain": [{"year": 2005, "month": "jan", "date": 26, "hours": 10, "utc": true}, {"year": 2010, "month": "dec", "date": 17, "hours": 7, "utc": true}]}, "axis": null},
    "y": {"field": "v", "type": "quantitative", "title": null, "scale": {"domain": [0.89565, 1.32779], "nice": false, "zero": false},
      "axis": {"orient": "right", "values": [1.32625,1.30755,1.28885,1.27015,1.25145,1.23275,1.21405,1.19535,1.17665,1.15795,1.13925,1.12055,1.10185,1.08315,1.06445,1.04575,1.02705,1.00835,0.98965,0.97095,0.95225,0.93355,0.91485,0.89615], "format": ".5f", "tickSize": 2, "labelPadding": 1, "labelFlush": 3, "labelOverlap": false, "labelFontSize": 4.4}},
    "color": {"field": "s", "type": "nominal", "scale": {"domain": ["b", "r", "g"], "range": ["#74a9d6", "#d46a6a", "#94c06a"]}, "legend": null}
   }},
  {"data": {"values": [{"d": "2007-08-01", "d2": "2010-01-04", "p": 1.0278, "p2": 1.0325}], "format": {"parse": {"d": "date", "d2": "date"}}},
   "mark": {"type": "rect", "color": "#8ea2d9", "opacity": 0.75},
   "encoding": {
    "x": {"field": "d", "type": "temporal", "title": null, "scale": {"type": "utc", "domain": [{"year": 2005, "month": "jan", "date": 26, "hours": 10, "utc": true}, {"year": 2010, "month": "dec", "date": 17, "hours": 7, "utc": true}]}, "axis": null},
    "x2": {"field": "d2"},
    "y": {"field": "p", "type": "quantitative", "title": null, "scale": {"domain": [0.89565, 1.32779], "nice": false, "zero": false},
      "axis": {"orient": "right", "values": [1.32625,1.30755,1.28885,1.27015,1.25145,1.23275,1.21405,1.19535,1.17665,1.15795,1.13925,1.12055,1.10185,1.08315,1.06445,1.04575,1.02705,1.00835,0.98965,0.97095,0.95225,0.93355,0.91485,0.89615], "format": ".5f", "tickSize": 2, "labelPadding": 1, "labelFlush": 3, "labelOverlap": false, "labelFontSize": 4.4}},
    "y2": {"field": "p2"}
   }},
  {"data": {"values": [{}]},
   "mark": {"type": "rule", "color": "#a3a9b3", "strokeDash": [1, 2], "strokeWidth": 1},
   "encoding": {
    "y": {"datum": 1.03165, "type": "quantitative", "title": null, "scale": {"domain": [0.89565, 1.32779], "nice": false, "zero": false},
      "axis": {"orient": "right", "values": [1.32625,1.30755,1.28885,1.27015,1.25145,1.23275,1.21405,1.19535,1.17665,1.15795,1.13925,1.12055,1.10185,1.08315,1.06445,1.04575,1.02705,1.00835,0.98965,0.97095,0.95225,0.93355,0.91485,0.89615], "format": ".5f", "tickSize": 2, "labelPadding": 1, "labelFlush": 3, "labelOverlap": false, "labelFontSize": 4.4}}
   }},
  {"data": {"values": [{}]},
   "mark": {"type": "text", "align": "left", "baseline": "top", "dx": 3, "dy": 2, "fontSize": 4.8, "color": "#000000"},
   "encoding": {
    "x": {"datum": {"year": 2005, "month": "jan", "date": 26, "hours": 10, "utc": true}, "type": "temporal", "scale": {"type": "utc", "domain": [{"year": 2005, "month": "jan", "date": 26, "hours": 10, "utc": true}, {"year": 2010, "month": "dec", "date": 17, "hours": 7, "utc": true}]}, "axis": null},
    "y": {"datum": 1.32779, "type": "quantitative", "title": null, "scale": {"domain": [0.89565, 1.32779], "nice": false, "zero": false},
      "axis": {"orient": "right", "values": [1.32625,1.30755,1.28885,1.27015,1.25145,1.23275,1.21405,1.19535,1.17665,1.15795,1.13925,1.12055,1.10185,1.08315,1.06445,1.04575,1.02705,1.00835,0.98965,0.97095,0.95225,0.93355,0.91485,0.89615], "format": ".5f", "tickSize": 2, "labelPadding": 1, "labelFlush": 3, "labelOverlap": false, "labelFontSize": 4.4}},
    "text": {"value": "USDCAD,Weekly  1.04013 1.04512 1.02057 1.03165"}
   }},
  {"data": {"values": [{}]},
   "mark": {"type": "point", "shape": "M0.2,-0.7H3.7V0.7H0.2Z", "filled": true, "color": "#000000", "opacity": 1, "size": 100},
   "encoding": {
    "x": {"datum": {"year": 2010, "month": "dec", "date": 17, "hours": 7, "utc": true}, "type": "temporal", "scale": {"type": "utc", "domain": [{"year": 2005, "month": "jan", "date": 26, "hours": 10, "utc": true}, {"year": 2010, "month": "dec", "date": 17, "hours": 7, "utc": true}]}, "axis": null},
    "y": {"datum": 1.03165, "type": "quantitative", "title": null, "scale": {"domain": [0.89565, 1.32779], "nice": false, "zero": false},
      "axis": {"orient": "right", "values": [1.32625,1.30755,1.28885,1.27015,1.25145,1.23275,1.21405,1.19535,1.17665,1.15795,1.13925,1.12055,1.10185,1.08315,1.06445,1.04575,1.02705,1.00835,0.98965,0.97095,0.95225,0.93355,0.91485,0.89615], "format": ".5f", "tickSize": 2, "labelPadding": 1, "labelFlush": 3, "labelOverlap": false, "labelFontSize": 4.4}}
   }},
  {"data": {"values": [{}]},
   "mark": {"type": "text", "align": "left", "baseline": "middle", "dx": 3, "fontSize": 4.4, "color": "#ffffff"},
   "encoding": {
    "x": {"datum": {"year": 2010, "month": "dec", "date": 17, "hours": 7, "utc": true}, "type": "temporal", "scale": {"type": "utc", "domain": [{"year": 2005, "month": "jan", "date": 26, "hours": 10, "utc": true}, {"year": 2010, "month": "dec", "date": 17, "hours": 7, "utc": true}]}, "axis": null},
    "y": {"datum": 1.03165, "type": "quantitative", "title": null, "scale": {"domain": [0.89565, 1.32779], "nice": false, "zero": false},
      "axis": {"orient": "right", "values": [1.32625,1.30755,1.28885,1.27015,1.25145,1.23275,1.21405,1.19535,1.17665,1.15795,1.13925,1.12055,1.10185,1.08315,1.06445,1.04575,1.02705,1.00835,0.98965,0.97095,0.95225,0.93355,0.91485,0.89615], "format": ".5f", "tickSize": 2, "labelPadding": 1, "labelFlush": 3, "labelOverlap": false, "labelFontSize": 4.4}},
    "text": {"value": "1.03165"}
   }}
 ]
},
{
 "width": 603, "height": 41,
 "resolve": {"scale": {"y": "independent"}},
 "layer": [
  {"data": {"name": "macd"},
   "mark": {"type": "area", "color": "#a7a7a7"},
   "encoding": {
    "x": {"field": "d", "type": "temporal", "title": null, "scale": {"type": "utc", "domain": [{"year": 2005, "month": "jan", "date": 26, "hours": 10, "utc": true}, {"year": 2010, "month": "dec", "date": 17, "hours": 7, "utc": true}]},
      "axis": {"orient": "bottom", "values": [{"year": 2005, "month": "jan", "date": 30, "utc": true}, {"year": 2005, "month": "may", "date": 22, "utc": true}, {"year": 2005, "month": "sep", "date": 11, "utc": true}, {"year": 2006, "month": "jan", "date": 1, "utc": true}, {"year": 2006, "month": "apr", "date": 23, "utc": true}, {"year": 2006, "month": "aug", "date": 13, "utc": true}, {"year": 2006, "month": "dec", "date": 3, "utc": true}, {"year": 2007, "month": "mar", "date": 25, "utc": true}, {"year": 2007, "month": "jul", "date": 15, "utc": true}, {"year": 2007, "month": "nov", "date": 4, "utc": true}, {"year": 2008, "month": "feb", "date": 24, "utc": true}, {"year": 2008, "month": "jun", "date": 15, "utc": true}, {"year": 2008, "month": "oct", "date": 5, "utc": true}, {"year": 2009, "month": "jan", "date": 25, "utc": true}, {"year": 2009, "month": "may", "date": 17, "utc": true}, {"year": 2009, "month": "sep", "date": 6, "utc": true}], "labelExpr": "utcFormat(datum.value, '%-d %b %Y')", "labelAlign": "left", "labelFontSize": 4.4, "tickSize": 2, "labelPadding": 1, "labelOverlap": false, "labelFlush": false}},
    "y": {"field": "v", "type": "quantitative", "title": null, "scale": {"domain": [-0.04453, 0.05655], "nice": false, "zero": false},
      "axis": {"orient": "right", "values": [-0.04453, 0, 0.05655], "labelExpr": "datum.value == 0 ? '0.00' : format(datum.value, '.5f')", "labelFlush": true, "tickSize": 2, "labelPadding": 1, "labelOverlap": false, "labelFontSize": 4.2}},
    "y2": {"datum": 0}
   }},
  {"data": {"name": "sig"},
   "mark": {"type": "line", "color": "#e0353b", "strokeWidth": 1},
   "encoding": {
    "x": {"field": "d", "type": "temporal", "title": null, "scale": {"type": "utc", "domain": [{"year": 2005, "month": "jan", "date": 26, "hours": 10, "utc": true}, {"year": 2010, "month": "dec", "date": 17, "hours": 7, "utc": true}]},
      "axis": {"orient": "bottom", "values": [{"year": 2005, "month": "jan", "date": 30, "utc": true}, {"year": 2005, "month": "may", "date": 22, "utc": true}, {"year": 2005, "month": "sep", "date": 11, "utc": true}, {"year": 2006, "month": "jan", "date": 1, "utc": true}, {"year": 2006, "month": "apr", "date": 23, "utc": true}, {"year": 2006, "month": "aug", "date": 13, "utc": true}, {"year": 2006, "month": "dec", "date": 3, "utc": true}, {"year": 2007, "month": "mar", "date": 25, "utc": true}, {"year": 2007, "month": "jul", "date": 15, "utc": true}, {"year": 2007, "month": "nov", "date": 4, "utc": true}, {"year": 2008, "month": "feb", "date": 24, "utc": true}, {"year": 2008, "month": "jun", "date": 15, "utc": true}, {"year": 2008, "month": "oct", "date": 5, "utc": true}, {"year": 2009, "month": "jan", "date": 25, "utc": true}, {"year": 2009, "month": "may", "date": 17, "utc": true}, {"year": 2009, "month": "sep", "date": 6, "utc": true}], "labelExpr": "utcFormat(datum.value, '%-d %b %Y')", "labelAlign": "left", "labelFontSize": 4.4, "tickSize": 2, "labelPadding": 1, "labelOverlap": false, "labelFlush": false}},
    "y": {"field": "v", "type": "quantitative", "title": null, "scale": {"domain": [-0.04453, 0.05655], "nice": false, "zero": false}, "axis": null}
   }},
  {"data": {"values": [{"lv": 30}, {"lv": 70}]},
   "mark": {"type": "rule", "color": "#9aa3b0", "strokeDash": [1, 2], "strokeWidth": 1},
   "encoding": {
    "y": {"field": "lv", "type": "quantitative", "title": null, "scale": {"domain": [0, 100], "nice": false, "zero": false}, "axis": null}
   }},
  {"data": {"name": "rsi"},
   "mark": {"type": "line", "color": "#3d3a9e", "strokeWidth": 1},
   "encoding": {
    "x": {"field": "d", "type": "temporal", "title": null, "scale": {"type": "utc", "domain": [{"year": 2005, "month": "jan", "date": 26, "hours": 10, "utc": true}, {"year": 2010, "month": "dec", "date": 17, "hours": 7, "utc": true}]},
      "axis": {"orient": "bottom", "values": [{"year": 2005, "month": "jan", "date": 30, "utc": true}, {"year": 2005, "month": "may", "date": 22, "utc": true}, {"year": 2005, "month": "sep", "date": 11, "utc": true}, {"year": 2006, "month": "jan", "date": 1, "utc": true}, {"year": 2006, "month": "apr", "date": 23, "utc": true}, {"year": 2006, "month": "aug", "date": 13, "utc": true}, {"year": 2006, "month": "dec", "date": 3, "utc": true}, {"year": 2007, "month": "mar", "date": 25, "utc": true}, {"year": 2007, "month": "jul", "date": 15, "utc": true}, {"year": 2007, "month": "nov", "date": 4, "utc": true}, {"year": 2008, "month": "feb", "date": 24, "utc": true}, {"year": 2008, "month": "jun", "date": 15, "utc": true}, {"year": 2008, "month": "oct", "date": 5, "utc": true}, {"year": 2009, "month": "jan", "date": 25, "utc": true}, {"year": 2009, "month": "may", "date": 17, "utc": true}, {"year": 2009, "month": "sep", "date": 6, "utc": true}], "labelExpr": "utcFormat(datum.value, '%-d %b %Y')", "labelAlign": "left", "labelFontSize": 4.4, "tickSize": 2, "labelPadding": 1, "labelOverlap": false, "labelFlush": false}},
    "y": {"field": "v", "type": "quantitative", "title": null, "scale": {"domain": [0, 100], "nice": false, "zero": false},
      "axis": {"orient": "right", "values": [30, 70], "tickSize": 2, "labelPadding": 1, "domain": false, "labelOverlap": false, "labelFontSize": 4.2}}
   }},
  {"data": {"values": [{}]},
   "mark": {"type": "text", "align": "left", "baseline": "top", "dx": 2, "dy": 2, "fontSize": 4.6, "color": "#000000"},
   "encoding": {
    "x": {"datum": {"year": 2005, "month": "jan", "date": 26, "hours": 10, "utc": true}, "type": "temporal", "title": null, "scale": {"type": "utc", "domain": [{"year": 2005, "month": "jan", "date": 26, "hours": 10, "utc": true}, {"year": 2010, "month": "dec", "date": 17, "hours": 7, "utc": true}]},
      "axis": {"orient": "bottom", "values": [{"year": 2005, "month": "jan", "date": 30, "utc": true}, {"year": 2005, "month": "may", "date": 22, "utc": true}, {"year": 2005, "month": "sep", "date": 11, "utc": true}, {"year": 2006, "month": "jan", "date": 1, "utc": true}, {"year": 2006, "month": "apr", "date": 23, "utc": true}, {"year": 2006, "month": "aug", "date": 13, "utc": true}, {"year": 2006, "month": "dec", "date": 3, "utc": true}, {"year": 2007, "month": "mar", "date": 25, "utc": true}, {"year": 2007, "month": "jul", "date": 15, "utc": true}, {"year": 2007, "month": "nov", "date": 4, "utc": true}, {"year": 2008, "month": "feb", "date": 24, "utc": true}, {"year": 2008, "month": "jun", "date": 15, "utc": true}, {"year": 2008, "month": "oct", "date": 5, "utc": true}, {"year": 2009, "month": "jan", "date": 25, "utc": true}, {"year": 2009, "month": "may", "date": 17, "utc": true}, {"year": 2009, "month": "sep", "date": 6, "utc": true}], "labelExpr": "utcFormat(datum.value, '%-d %b %Y')", "labelAlign": "left", "labelFontSize": 4.4, "tickSize": 2, "labelPadding": 1, "labelOverlap": false, "labelFlush": false}},
    "y": {"datum": 100, "type": "quantitative", "scale": {"domain": [0, 100], "nice": false, "zero": false}, "axis": null},
    "text": {"value": "MACD(12,26,9) -0.006626 -0.027980  RSI(9) 28.8020"}
   }},
  {"data": {"values": [{}]},
   "mark": {"type": "text", "align": "left", "baseline": "bottom", "dx": 2, "dy": -1, "fontSize": 4.6, "color": "#000000"},
   "encoding": {
    "x": {"datum": {"year": 2005, "month": "jan", "date": 26, "hours": 10, "utc": true}, "type": "temporal", "title": null, "scale": {"type": "utc", "domain": [{"year": 2005, "month": "jan", "date": 26, "hours": 10, "utc": true}, {"year": 2010, "month": "dec", "date": 17, "hours": 7, "utc": true}]},
      "axis": {"orient": "bottom", "values": [{"year": 2005, "month": "jan", "date": 30, "utc": true}, {"year": 2005, "month": "may", "date": 22, "utc": true}, {"year": 2005, "month": "sep", "date": 11, "utc": true}, {"year": 2006, "month": "jan", "date": 1, "utc": true}, {"year": 2006, "month": "apr", "date": 23, "utc": true}, {"year": 2006, "month": "aug", "date": 13, "utc": true}, {"year": 2006, "month": "dec", "date": 3, "utc": true}, {"year": 2007, "month": "mar", "date": 25, "utc": true}, {"year": 2007, "month": "jul", "date": 15, "utc": true}, {"year": 2007, "month": "nov", "date": 4, "utc": true}, {"year": 2008, "month": "feb", "date": 24, "utc": true}, {"year": 2008, "month": "jun", "date": 15, "utc": true}, {"year": 2008, "month": "oct", "date": 5, "utc": true}, {"year": 2009, "month": "jan", "date": 25, "utc": true}, {"year": 2009, "month": "may", "date": 17, "utc": true}, {"year": 2009, "month": "sep", "date": 6, "utc": true}], "labelExpr": "utcFormat(datum.value, '%-d %b %Y')", "labelAlign": "left", "labelFontSize": 4.4, "tickSize": 2, "labelPadding": 1, "labelOverlap": false, "labelFlush": false}},
    "y": {"datum": 0, "type": "quantitative", "scale": {"domain": [0, 100], "nice": false, "zero": false}, "axis": null},
    "text": {"value": "FxPro MT4, © 2001-2009 MetaQuotes Software Corp."}
   }}
 ]
}
]
}
